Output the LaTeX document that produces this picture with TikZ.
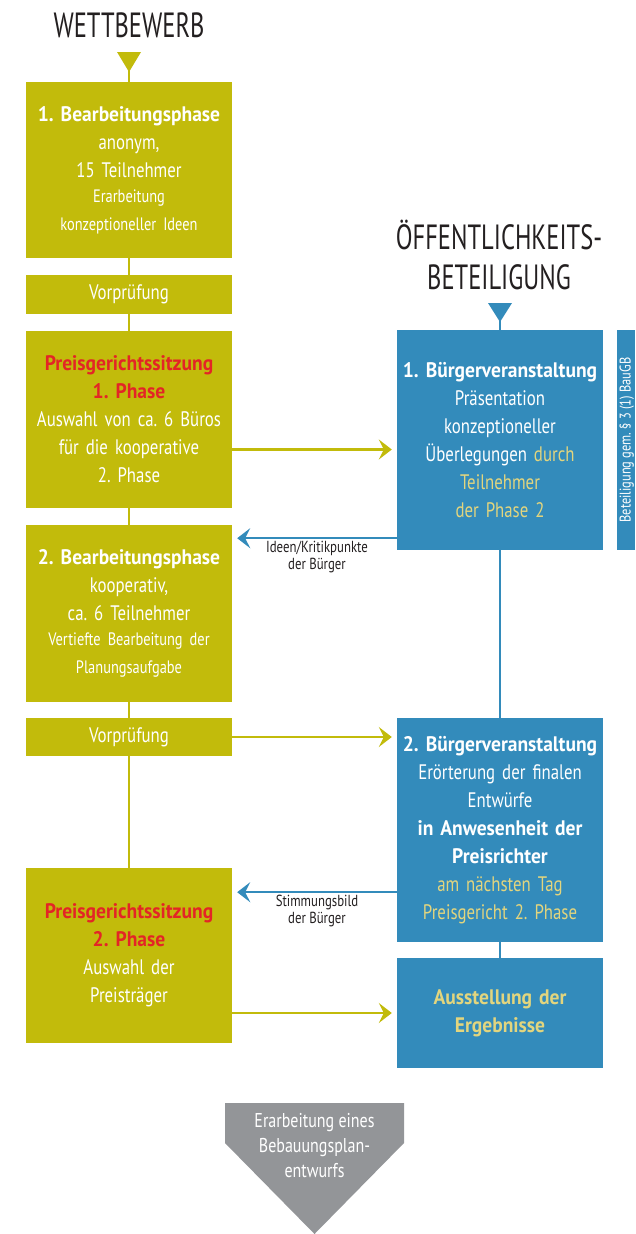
\documentclass[tikz,border=0pt]{standalone}
\usepackage{fontspec}
\setmainfont{PT Sans}[FakeStretch=0.8, BoldFeatures={FakeStretch=0.93}]
\newfontfamily\headfont{PT Sans}[FakeStretch=0.7]
\usetikzlibrary{arrows.meta,positioning,calc}
\definecolor{wgreen}{RGB}{194,187,11}
\definecolor{bblue}{RGB}{51,139,187}
\definecolor{pred}{RGB}{227,37,38}
\definecolor{pyellow}{RGB}{226,213,126}
\definecolor{pgray}{RGB}{147,149,152}
\definecolor{ink}{RGB}{35,31,32}
\newcommand{\normtxt}{\fontsize{21}{28}\selectfont}
\newcommand{\smalltxt}{\fontsize{18}{25}\selectfont}
\frenchspacing
\tikzset{
	wbox/.style = {
			fill       = wgreen,
			text       = white,
			inner xsep = 1pt,
			inner ysep = 0pt,
			text width = 204pt,
			align      = center,
			font       = \normtxt,
		},
	bbox/.style = {wbox, fill = bblue},
	wline/.style  = {draw = wgreen, line width = 2.5pt},
	bline/.style  = {draw = bblue, line width = 2.5pt},
	garrow/.style = {wline, -{Stealth[length=13pt,width=20pt,inset=5pt]}},
	barrow/.style = {bline, -{Stealth[length=13pt,width=20pt,inset=5pt]}},
	lbl/.style    = {text = ink, font = \fontsize{16}{17}\selectfont, align = center, inner sep = 2pt},
	head/.style   = {text = ink, font = \headfont\fontsize{35}{40}\selectfont, align = center, inner sep = 0pt}
}

\begin{document}
\begin{tikzpicture}[x=1pt,y=-1pt]
	\useasboundingbox (0,0) rectangle (635,1234);

	% headings and start triangles
	\node[head] (wtitle) at (129,25) {WETTBEWERB};
	\node[head] (btitle) at (499,255) {ÖFFENTLICHKEITS-\\BETEILIGUNG};
	\fill[wgreen] (117,52) -- (141,52) -- (129,72) -- cycle;
	\coordinate (wtri) at (129,70);
	\fill[bblue] (488,303) -- (512,303) -- (500,322) -- cycle;
	\coordinate (btri) at (500,320);

	% left column
	\node[wbox, minimum height=176pt] (bp1) at (129,170) {\textbf{1. Bearbeitungsphase}\\anonym,\\15 Teilnehmer\\{\smalltxt Erarbeitung\\konzeptioneller Ideen}};
	\node[wbox, minimum height=39pt] (vp1) at (129,294.5) {Vorprüfung};
	\node[wbox, minimum height=177pt] (p1) at (129,419.5) {\textcolor{pred}{\textbf{Preisgerichtssitzung\\1. Phase}}\\Auswahl von ca. 6 Büros\\für die kooperative\\2. Phase};
	\node[wbox, minimum height=177pt] (bp2) at (129,613.5) {\textbf{2. Bearbeitungsphase}\\kooperativ,\\ca. 6 Teilnehmer\\{\smalltxt Vertiefte Bearbeitung der\\Planungsaufgabe}};
	\node[wbox, minimum height=38pt] (vp2) at (129,737) {Vorprüfung};
	\node[wbox, minimum height=175pt] (p2) at (129,955.5) {\textcolor{pred}{\textbf{Preisgerichtssitzung\\2. Phase}}\\Auswahl der\\Preisträger};

	% right column
	\node[bbox, minimum height=220pt] (bv1) at (500,440) {\textbf{1. Bürgerveranstaltung}\\Präsentation\\konzeptioneller\\Überlegungen \textcolor{pyellow}{durch}\\\textcolor{pyellow}{Teilnehmer}\\\textcolor{pyellow}{der Phase 2}};
	\node[bbox, minimum height=224pt] (bv2) at (500,830) {\textbf{2. Bürgerveranstaltung}\\Erörterung der finalen\\Entwürfe\\\textbf{in Anwesenheit der}\\\textbf{Preisrichter}\\\textcolor{pyellow}{am nächsten Tag}\\\textcolor{pyellow}{Preisgericht 2. Phase}};
	\node[bbox, minimum height=110pt] (bv3) at (500,1013) {\textcolor{pyellow}{\textbf{Ausstellung der\\Ergebnisse}}};

	% side bar
	\fill[bblue] (617,330) rectangle (635,550);
	\node[rotate=90, anchor=north, inner sep=0pt, text=white, font=\fontsize{15.5}{17}\selectfont] (bau) at (619.5,440) {Beteiligung gem. \S\ 3 (1) BauGB};

	% vertical connectors
	\draw[wline] (wtri) -- (bp1.north);
	\foreach \a/\b in {bp1/vp1, vp1/p1, p1/bp2, bp2/vp2, vp2/p2}
		\draw[wline] (\a.south) -- (\b.north);
	\draw[bline] (btri) -- (bv1.north);
	\foreach \a/\b in {bv1/bv2, bv2/bv3}
		\draw[bline] (\a.south) -- (\b.north);

	% horizontal arrows
	\coordinate (ga) at ([yshift=-30pt]p1.east);
	\draw[garrow] (ga) -- ($(ga -| bv1.west)+(-5,0)$);
	\draw[garrow] (vp2.east) -- ($(vp2.east -| bv2.west)+(-5,0)$);
	\draw[garrow] (p2.east |- bv3.west) -- ($(bv3.west)+(-5,0)$);
	\coordinate (ia) at ([yshift=12pt]bv1.south west);
	\draw[barrow] (ia) -- ($(ia -| bp2.east)+(5,0)$) node[lbl, midway, below] {Ideen/Kritikpunkte\\der Bürger};
	\coordinate (sb) at ([yshift=50pt]bv2.south west);
	\draw[barrow] (sb) -- ($(sb -| p2.east)+(5,0)$) node[lbl, midway, below] {Stimmungsbild\\der Bürger};

	% result
	\fill[pgray] (225,1103) -- (404,1103) -- (404,1143) -- (314.5,1234) -- (225,1143) -- cycle;
	\node[text=white, align=center, font=\fontsize{20}{25}\selectfont] (bplan) at (314.5,1146) {Erarbeitung eines\\Bebauungsplan-\\entwurfs};
\end{tikzpicture}
\end{document}
